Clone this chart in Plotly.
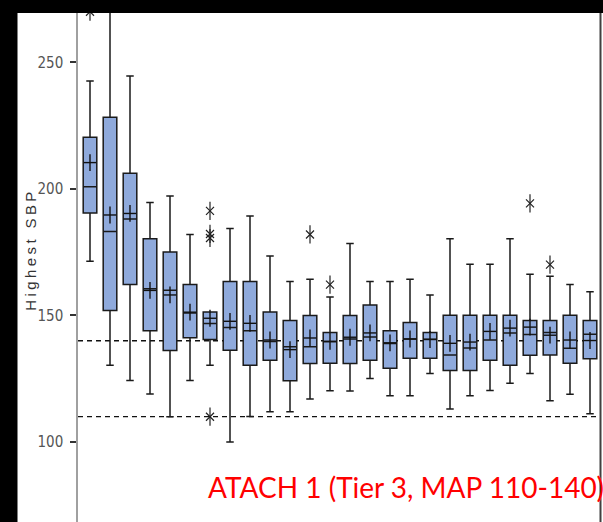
import plotly.graph_objects as go

# Box-plot summary statistics of highest SBP per group
positions = list(range(1, 27))
q1 = [190.5, 152.0, 162.2, 144.0, 136.2, 141.2, 140.5, 136.3, 130.3, 132.3, 124.2, 131.0, 131.1,
      131.0, 132.3, 129.1, 133.1, 133.1, 128.3, 128.3, 132.3, 130.3, 134.3, 134.4, 131.1, 132.9]
median = [200.9, 183.2, 188.1, 160.6, 160.0, 151.0, 146.8, 145.2, 144.0, 139.7, 137.6, 137.6, 139.6,
          140.7, 141.5, 138.9, 140.7, 140.6, 134.4, 137.1, 140.3, 143.1, 142.5, 143.3, 137.0, 142.6]
q3 = [220.4, 228.3, 206.2, 180.3, 175.1, 162.2, 151.4, 163.4, 163.4, 151.4, 148.0, 150.0, 143.3,
      150.0, 154.1, 144.0, 147.2, 143.3, 150.1, 150.1, 150.1, 150.1, 148.0, 148.0, 150.1, 148.0]
mean = [210.4, 189.7, 190.3, 159.9, 158.1, 151.3, 148.9, 147.7, 146.9, 140.3, 136.5, 141.1, 139.8,
        141.4, 143.1, 139.2, 140.7, 140.5, 139.0, 139.5, 143.7, 145.0, 145.4, 142.2, 140.3, 140.1]
lower = [171.4, 130.3, 124.3, 119.0, 110.0, 124.3, 130.3, 100.0, 110.1, 112.0, 112.0, 117.0, 120.3,
         120.2, 125.1, 118.3, 118.3, 127.1, 113.0, 118.3, 120.4, 123.2, 127.1, 116.3, 118.9, 111.2]
upper = [242.6, 276.0, 244.6, 194.6, 197.2, 182.0, 151.4, 184.4, 189.3, 173.5, 163.4, 164.3, 157.3,
         178.4, 163.4, 163.4, 164.3, 158.1, 180.3, 170.2, 170.2, 180.3, 166.3, 165.5, 162.2, 159.4]

# Outlying observations
outlier_x = [1, 7, 7, 7, 7, 12, 13, 23, 24]
outlier_y = [270.0, 191.3, 182.2, 180.6, 110.0, 182.0, 162.2, 194.3, 170.1]

# Reference limits (dashed lines)
ref_lines = [140, 110]
y_ticks = [100, 150, 200, 250]

W, H = 603, 522
ML, MR, MT, MB = 78, 3, 13, 0
PW, PH = W - ML - MR, H - MT - MB


def px_x(p):
    return (p - ML) / PW


def px_y(p):
    return (H - MB - p) / PH


def marker_layer(xs, ys, symbol, size, width, color):
    return go.Scatter(
        x=xs, y=ys, mode="markers", hoverinfo="skip", showlegend=False,
        marker=dict(symbol=symbol, size=size, color=color,
                    line=dict(color=color, width=width)),
    )


fig = go.Figure()

fig.add_trace(go.Box(
    x=positions, q1=q1, median=median, q3=q3,
    lowerfence=lower, upperfence=upper,
    boxpoints=False, width=0.68, whiskerwidth=0.55,
    fillcolor="#8FAADC",
    line=dict(color="#1a1a1a", width=1.5),
    hoverinfo="skip", showlegend=False,
))

# Mean shown as a plus sign
fig.add_trace(marker_layer(positions, mean, "line-ns-open", 12, 1.4, "#111"))
fig.add_trace(marker_layer(positions, mean, "line-ew-open", 9, 1.4, "#111"))

# Outliers drawn as six-armed stars
fig.add_trace(marker_layer(outlier_x, outlier_y, "x-thin-open", 8, 1.2, "#222"))
fig.add_trace(marker_layer(outlier_x, outlier_y, "line-ns-open", 13, 1.2, "#222"))

shapes = []
for v in ref_lines:
    shapes.append(dict(type="line", xref="paper", yref="y", x0=0, x1=1, y0=v, y1=v,
                       line=dict(color="#111", width=1.3, dash="5px,4px"), layer="below"))

# Frame edges
shapes.append(dict(type="rect", xref="paper", yref="paper",
                   x0=px_x(0), x1=px_x(W), y0=1, y1=px_y(0),
                   fillcolor="black", line=dict(width=0), layer="above"))
shapes.append(dict(type="rect", xref="paper", yref="paper",
                   x0=px_x(0), x1=px_x(17.5), y0=px_y(H), y1=px_y(0),
                   fillcolor="black", line=dict(width=0), layer="above"))
shapes.append(dict(type="line", xref="paper", yref="paper",
                   x0=px_x(600.5), x1=px_x(600.5), y0=0, y1=1,
                   line=dict(color="#404040", width=2), layer="above"))

annotations = [
    dict(text="Highest SBP", xref="paper", yref="paper", x=px_x(30), y=px_y(250),
         textangle=-90, showarrow=False, xanchor="center", yanchor="middle",
         font=dict(family="Liberation Sans, Arial, sans-serif", size=15, color="#333")),
    dict(text="ATACH 1 (Tier 3, MAP 110-140)", xref="paper", yref="paper",
         x=px_x(206), y=px_y(487), showarrow=False, xanchor="left", yanchor="middle",
         font=dict(family="Lato, sans-serif", size=28, color="#ff0000")),
]

fig.update_layout(
    width=W, height=H,
    margin=dict(l=ML, r=MR, t=MT, b=MB, pad=0),
    paper_bgcolor="white", plot_bgcolor="white",
    shapes=shapes, annotations=annotations,
    xaxis=dict(range=[0.4, 26.5], visible=False, showgrid=False, zeroline=False),
    yaxis=dict(range=[68.4, 269.5], tickvals=y_ticks, showgrid=False, zeroline=False,
               showline=True, linecolor="#a0a0a0", linewidth=1.5,
               ticks="outside", ticklen=6, tickwidth=1.5, tickcolor="#333",
               ticklabelstandoff=4,
               tickfont=dict(family="DejaVu Sans Condensed, Liberation Sans Narrow, sans-serif",
                             size=15, color="#555")),
)

spacing_js = (
    "document.querySelectorAll('text.annotation-text').forEach(function(t){"
    "if(t.textContent==='Highest SBP'){t.setAttribute('letter-spacing','3.4px');}});"
)

fig.write_html("out.html", post_script=spacing_js)
